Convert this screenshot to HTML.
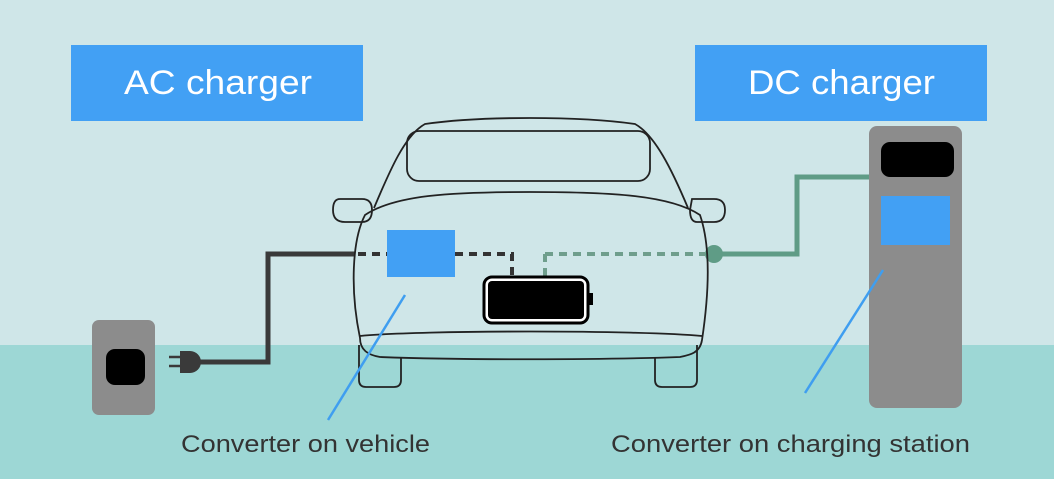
<!DOCTYPE html>
<html><head><meta charset="utf-8"><style>
html,body{margin:0;padding:0}
body{width:1054px;height:479px;overflow:hidden;background:#cfe6e8;font-family:"Liberation Sans",sans-serif}
</style></head><body>
<svg width="1054" height="479" viewBox="0 0 1054 479" xmlns="http://www.w3.org/2000/svg" style="position:absolute;left:0;top:0">
<rect x="0" y="0" width="1054" height="479" fill="#cfe6e8"/>
<rect x="0" y="345" width="1054" height="134" fill="#9dd7d5"/>
<rect x="71" y="45" width="292" height="76" fill="#42a0f4"/>
<text x="124" y="94" font-size="34" fill="#fff" textLength="188" lengthAdjust="spacingAndGlyphs" font-family="Liberation Sans, sans-serif">AC charger</text>
<rect x="695" y="45" width="292" height="76" fill="#42a0f4"/>
<text x="748" y="94" font-size="34" fill="#fff" textLength="187" lengthAdjust="spacingAndGlyphs" font-family="Liberation Sans, sans-serif">DC charger</text>
<!-- outlet -->
<rect x="92" y="320" width="63" height="95" rx="7" fill="#8c8c8c"/>
<rect x="106" y="349" width="39" height="36" rx="9" fill="#000"/>
<!-- plug -->
<path d="M169 357 H180 M169 366 H180" stroke="#3a3a3a" stroke-width="2.5"/>
<path d="M180 351 H190 A11 11 0 0 1 190 373 H180 Z" fill="#3a3a3a"/>
<polyline points="196,362 268,362 268,254 355,254" fill="none" stroke="#3a3a3a" stroke-width="5"/>
<!-- station -->
<rect x="869" y="126" width="93" height="282" rx="8" fill="#8c8c8c"/>
<rect x="881" y="142" width="73" height="35" rx="9" fill="#000"/>
<rect x="881" y="196" width="69" height="49" fill="#42a0f4"/>
<polyline points="715,254 797,254 797,177 869,177" fill="none" stroke="#5f9c86" stroke-width="5"/>
<circle cx="714" cy="254" r="9" fill="#5f9c86"/>
<!-- car -->
<g fill="none" stroke="#222" stroke-width="1.8">
<path d="M374 208 C390 170 405 135 425 124 C480 116 580 116 635 124 C655 135 672 170 688 208"/>
<rect x="407" y="131" width="243" height="50" rx="12"/>
<path d="M340 199 H362 Q372 199 372 210 Q372 222 362 222 H345 Q333 222 333 210 Q333 199 340 199 Z"/>
<path d="M692 199 H714 Q725 199 725 210 Q725 222 714 222 H697 Q690 222 690 210 Z"/>
<path d="M360 338 C350 290 352 240 365 215 C395 195 450 192 530 192 C610 192 670 195 700 215 C712 250 708 300 702 340 C700 353 690 355 680 357 C600 360 460 360 380 357 C368 355 360 350 360 338 Z"/>
<path d="M360 336 C420 330 640 330 702 336"/>
<path d="M359 345 V380 Q359 387 366 387 H394 Q401 387 401 380 V357"/>
<path d="M697 345 V380 Q697 387 690 387 H662 Q655 387 655 380 V357"/>
</g>
<!-- dashed lines -->
<path d="M358 254 H387 M455 254 H512 V276" stroke="#333" stroke-width="4" stroke-dasharray="8,6" fill="none"/>
<path d="M545 254 H705 M545 254 V276" stroke="#6f9e8c" stroke-width="4" stroke-dasharray="8,6" fill="none"/>
<rect x="387" y="230" width="68" height="47" fill="#42a0f4"/>
<!-- battery -->
<rect x="484" y="277" width="104" height="46" rx="8" fill="#fff" stroke="#000" stroke-width="3"/>
<rect x="488" y="281" width="96" height="38" rx="4" fill="#000"/>
<rect x="588" y="293" width="5" height="12" fill="#000"/>
<!-- pointers -->
<line x1="405" y1="295" x2="328" y2="420" stroke="#3f9ef0" stroke-width="2.5"/>
<line x1="883" y1="270" x2="805" y2="393" stroke="#3f9ef0" stroke-width="2.5"/>
<text x="181" y="452" font-size="24" fill="#333" textLength="249" lengthAdjust="spacingAndGlyphs" font-family="Liberation Sans, sans-serif">Converter on vehicle</text>
<text x="611" y="452" font-size="24" fill="#333" textLength="359" lengthAdjust="spacingAndGlyphs" font-family="Liberation Sans, sans-serif">Converter on charging station</text>
</svg>
</body></html>
